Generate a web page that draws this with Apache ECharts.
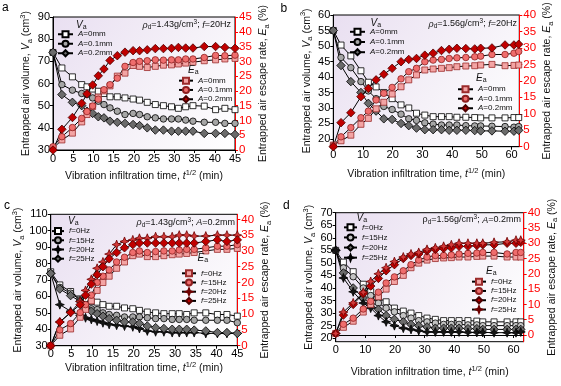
<!DOCTYPE html>
<html><head><meta charset="utf-8">
<script src="https://cdn.jsdelivr.net/npm/echarts@6/dist/echarts.min.js"></script>
<style>html,body{margin:0;padding:0;background:#fff}#c{width:561px;height:386px}</style>
</head><body><div id="c"></div>
<script>
// ---------------- data ----------------
const xA = [0, 2.2, 4.8, 7.1, 8.4, 9.8, 11.2, 12.6, 14.1, 15.9, 17.8, 19.8, 21.4, 23.3, 25.3, 27.3, 29.3, 31, 32.8, 34.6, 37.4, 40.2, 42.5, 45];
const xB = [0, 2.6, 5.9, 9.3, 11.8, 14.4, 17, 19.8, 22.8, 25.4, 28, 30.8, 33.6, 36.4, 39, 41.6, 44.6, 47.6, 49.6, 53.4, 57.8, 60.8, 62.4];

const aVa0 = [74, 67, 63, 59.5, 58.5, 57.5, 56.5, 55.5, 54, 54, 53.5, 53, 52.5, 51.5, 50.5, 50, 49.5, 48.8, 49.5, 50, 49.8, 48.2, 48.8, 48.2];
const aVa1 = [74, 59.5, 57, 55.5, 55, 53.5, 52, 50.5, 49, 47.5, 46, 46.5, 46, 45, 44.5, 44, 44, 44, 43.5, 43, 42.5, 42.5, 42, 42];
const aVa2 = [74, 55, 51.5, 50, 47.5, 46.5, 45, 44.5, 43, 42.5, 42, 41.5, 41, 40, 39, 39, 38.5, 38.5, 38.5, 38.5, 37.5, 37.5, 37.5, 37];
const aEa0 = [0.6, 3.4, 5.7, 9.5, 12, 14.7, 17.9, 20, 21.7, 25, 26, 28.6, 28.3, 27.9, 28.3, 28.7, 28.8, 29.1, 29.4, 29.7, 30.2, 30.5, 30.8, 31];
const aEa1 = [1.1, 4.5, 7.6, 10.7, 13, 14.9, 17.2, 20.4, 22.1, 24.3, 28.3, 29.6, 30, 30.2, 30.5, 30.4, 30.5, 30.5, 30.8, 30.8, 31.3, 32, 31.9, 32.1];
const aEa2 = [0, 7, 11, 15.8, 19, 22, 25.1, 27.4, 30.3, 31.9, 33.1, 33.6, 33.6, 33.9, 34.3, 34.3, 34.4, 34.7, 34.5, 34.5, 35, 35, 34.7, 34.4];

const bVa0 = [55, 50.3, 46.8, 42, 38.3, 36.8, 35, 33, 31, 30, 28.3, 27.7, 27.2, 27.2, 27.2, 27, 27, 26.9, 26.8, 26.8, 26.8, 26.9, 26.9];
const bVa1 = [55, 46.3, 43, 38.5, 35.5, 33, 30.5, 29.5, 28, 26.5, 26, 25.2, 24.8, 24.5, 24.5, 24.5, 24.3, 24.2, 24.2, 24.1, 24, 23.8, 24];
const bVa2 = [55, 43.7, 38.5, 35, 31.5, 29, 26.5, 26.3, 25, 24.3, 23.5, 23, 23, 23, 22.8, 22.8, 22.8, 22.7, 22.6, 22.6, 22.5, 22.5, 22.8];
const bEa0 = [0.5, 1.8, 3.5, 6.8, 8.6, 11.5, 13.5, 16, 18.2, 20.3, 21.8, 23.3, 23.6, 23.8, 24, 24.3, 24.5, 24.6, 24.8, 25, 24.6, 24.7, 24.8];
const bEa1 = [0.3, 3, 5.8, 8.8, 10.8, 14.2, 16.2, 18, 20.6, 22.8, 23.8, 25.8, 26.3, 26.5, 26.8, 27, 27.1, 27.3, 27.5, 28, 28, 28.4, 28.9];
const bEa2 = [0, 7.3, 10.3, 15.2, 17.7, 20.3, 22, 23.8, 25.8, 26.5, 26.8, 27.8, 28.4, 29.2, 29.6, 29.9, 29.8, 29.7, 29.9, 30, 30.9, 30.9, 31.1];

const cVa0 = [75, 67, 63, 58.5, 58, 57, 56.5, 55, 54, 54, 53, 52.5, 51.5, 50.5, 50, 49.5, 49.5, 49.5, 49, 50, 50, 49, 49, 48];
const cVa1 = [74, 65.5, 62, 58, 55, 52.5, 52, 50, 49, 48.5, 47.5, 47.5, 47.5, 47, 46.5, 46.5, 46, 46, 46, 45.5, 45.5, 45.5, 45.5, 44];
const cVa2 = [74, 55, 51, 48.5, 47, 46, 45, 44, 43, 42.5, 42, 41.5, 40.5, 39, 38.5, 38.5, 38, 38, 38, 38, 37.5, 37.5, 37.5, 37.5];
const cVa3 = [74, 64.5, 60.5, 57, 53, 51, 49.5, 48, 46.5, 45.5, 44.5, 44.5, 43.5, 42, 41, 40.5, 40, 40, 40, 39.5, 39, 38, 38, 37.5];
const cEa0 = [0, 3.3, 5.3, 9, 11.5, 14.2, 17.5, 20, 22, 24.5, 26.5, 28.5, 29, 28.2, 28.2, 28.5, 28.8, 29, 29.2, 29.5, 30, 30.5, 30.5, 30.8];
const cEa1 = [0, 5, 7, 10.5, 13, 16, 20, 22, 24, 26.5, 28, 29.5, 30, 29.5, 29.8, 30, 30, 30.3, 30.5, 30.5, 31, 31.5, 31.5, 32];
const cEa2 = [0, 7.5, 10.5, 14, 17.5, 21, 24.5, 26.5, 29, 32, 33, 33.5, 34, 34, 34.5, 34.5, 34.5, 35, 35, 34.7, 34.7, 35, 35, 35];
const cEa3 = [0, 7.5, 10.5, 13, 16, 19.5, 22.5, 25, 27.5, 29.5, 31, 32, 32.5, 32.5, 32.5, 32.5, 32.5, 32.5, 32.5, 32.5, 33, 33.5, 33, 33.5];

const dVa0 = [55, 50.3, 46.5, 41.5, 38.5, 36, 34.5, 32, 30.8, 30, 29, 28, 27.5, 27, 27, 27, 27, 26.8, 26.5, 26.5, 26.5, 26.5, 26.5];
const dVa1 = [55, 48, 44.5, 40, 37, 34, 32, 30.5, 29, 28, 27, 26.5, 26, 25.5, 25.5, 25.5, 25.3, 25.3, 25, 25, 25, 25, 25];
const dVa2 = [55, 46, 40, 36, 33.5, 31.5, 29, 27.5, 26.5, 25.5, 25, 24.5, 24, 24, 24, 24, 23.8, 23.8, 23.5, 23.5, 23.5, 23.5, 23.5];
const dVa3 = [55, 44, 38.5, 34, 32, 29, 26.5, 25, 24, 23.5, 23, 22.5, 22.5, 22.5, 22.5, 22.5, 22.3, 22.3, 22.3, 22.2, 22.2, 22.2, 22.5];
const dEa0 = [0.5, 2.5, 4.5, 7.5, 10, 12.5, 15, 17.5, 19.5, 22, 23.5, 24.5, 25, 25.2, 25.3, 25.5, 25.5, 25.7, 25.8, 25.8, 25.5, 25.5, 25.5];
const dEa1 = [0.5, 3.5, 5.5, 8.5, 11, 14, 17, 19, 21, 23, 24.5, 25.5, 26, 26, 26.2, 26.5, 26.7, 26.8, 27, 27, 26.5, 27, 27];
const dEa2 = [0.5, 6.5, 10, 13.5, 16, 18.5, 21, 23, 25, 26, 26.5, 27.5, 28, 28.3, 28.5, 29, 29, 29.3, 29.5, 29.5, 30, 30, 30.3];
const dEa3 = [0.5, 7.5, 10.5, 14, 17.5, 20, 22, 24, 25.5, 26.5, 27, 28, 28.5, 29, 29.5, 30, 30, 30, 30, 30.3, 30.5, 31, 31];

const labelsA = ['A=0mm', 'A=0.1mm', 'A=0.2mm'];
const labelsF = ['f=0Hz', 'f=15Hz', 'f=20Hz', 'f=25Hz'];

const ticksXB = [0, 10, 20, 30, 40, 50, 60];
const ticksLeftB = [20, 25, 30, 35, 40, 45, 50, 55, 60];
const ticksRight40 = [0, 5, 10, 15, 20, 25, 30, 35, 40];
const ticksLeftD = [20, 25, 30, 35, 40, 45, 50, 55, 60, 65, 70];

const annA = '{i|ρ}{s|d}=1.43g/cm{p|3}; {i|f}=20Hz';
const annB = '{i|ρ}{s|d}=1.56g/cm{p|3}; {i|f}=20Hz';
const annC = '{i|ρ}{s|d}=1.43g/cm{p|3}; {i|A}=0.2mm';
const annD = 'ρ{s|d}=1.56g/cm{p|3}; {i|A}=0.2mm';

// ---------------- styles ----------------
const FF = '"Liberation Sans", Arial, Helvetica, sans-serif';
const STAR = 'path://M0,-10 L2.8,-2.8 L10,0 L2.8,2.8 L0,10 L-2.8,2.8 L-10,0 L-2.8,-2.8 Z';
const ST = {
  sqW: {symbol: 'rect', size: 6, fill: '#ffffff', border: '#000'},
  ciG: {symbol: 'circle', size: 6.5, fill: '#a6a6a6', border: '#000'},
  ciL: {symbol: 'circle', size: 6.5, fill: '#c4c4c4', border: '#000'},
  diG: {symbol: 'diamond', size: 8.5, fill: '#6b6b6b', border: '#000'},
  stK: {symbol: STAR, size: 9, fill: '#151515', border: '#000'},
  sqP: {symbol: 'rect', size: 6, fill: '#f3a4a4', border: '#9b2b2b'},
  ciR: {symbol: 'circle', size: 6.5, fill: '#ef6d6d', border: '#8e2020'},
  diR: {symbol: 'diamond', size: 8.5, fill: '#c00000', border: '#4d0000'},
  stR: {symbol: STAR, size: 9, fill: '#d23a3a', border: '#6e0000'}
};

const bg = {type: 'linear', x: 0, y: 0, x2: 1, y2: 1, colorStops: [
  {offset: 0, color: '#e9dff1'}, {offset: 0.55, color: '#f5f1f8'}, {offset: 1, color: '#ffffff'}]};

const grids = [
  {left: 53, top: 17, width: 182, height: 133},
  {left: 333.3, top: 15, width: 186, height: 131.7},
  {left: 50.7, top: 214.3, width: 186.6, height: 131.4},
  {left: 335.7, top: 212.7, width: 188, height: 129}
].map(g => Object.assign(g, {show: true, backgroundColor: bg, borderColor: '#000', borderWidth: 1, containLabel: false, outerBoundsMode: 'none'}));

const nameRich = {
  i: {fontStyle: 'italic', fontSize: 10.5, fontFamily: FF, color: '#111'},
  s: {fontSize: 7.5, fontFamily: FF, color: '#111', verticalAlign: 'bottom', lineHeight: 8},
  p: {fontSize: 7.5, fontFamily: FF, color: '#111', verticalAlign: 'top', lineHeight: 8}
};
const nameStyle = {fontSize: 10.5, fontFamily: FF, color: '#111', lineHeight: 15, rich: nameRich};

function xAx(g, max, interval, custom, gap) {
  const ax = {
    gridIndex: g, type: 'value', min: 0, max: max,
    axisLine: {lineStyle: {color: '#000', width: 1}},
    axisTick: {length: 3, lineStyle: {color: '#000'}},
    axisLabel: {fontSize: 11, color: '#000', margin: 3, fontFamily: FF},
    splitLine: {show: false},
    name: 'Vibration infiltration time, {i|t}{p|1/2} (min)', nameLocation: 'middle', nameGap: gap,
    nameTextStyle: nameStyle
  };
  if (custom) { ax.axisLabel.customValues = custom; ax.axisTick.customValues = custom; }
  else ax.interval = interval;
  return ax;
}
function yL(g, min, max, interval, custom, gap) {
  const ax = {
    gridIndex: g, type: 'value', position: 'left', min: min, max: max,
    axisLine: {show: true, lineStyle: {color: '#000', width: 1}},
    axisTick: {show: true, length: 3, lineStyle: {color: '#000'}},
    axisLabel: {fontSize: 11, color: '#000', margin: 3, fontFamily: FF},
    splitLine: {show: false},
    name: 'Entrapped air volume, {i|V}{s|a} (cm{p|3})', nameLocation: 'middle', nameRotate: 90, nameGap: gap,
    nameTextStyle: nameStyle
  };
  if (custom) { ax.axisLabel.customValues = custom; ax.axisTick.customValues = custom; }
  else ax.interval = interval;
  return ax;
}
function yR(g, min, max, interval, custom, gap) {
  const ax = {
    gridIndex: g, type: 'value', position: 'right', min: min, max: max,
    axisLine: {show: true, lineStyle: {color: '#ff0000', width: 1}},
    axisTick: {show: true, length: 3, lineStyle: {color: '#ff0000'}},
    axisLabel: {fontSize: 11.5, color: '#ff0000', margin: 4, fontFamily: FF},
    splitLine: {show: false},
    name: 'Entrapped air escape rate, {i|E}{s|a} (%)', nameLocation: 'middle', nameRotate: 90, nameGap: gap,
    nameTextStyle: nameStyle
  };
  if (custom) { ax.axisLabel.customValues = custom; ax.axisTick.customValues = custom; }
  else ax.interval = interval;
  return ax;
}

const xAxis = [
  xAx(0, 45, 5, null, 19),
  xAx(1, 62.6, 10, ticksXB, 20),
  xAx(2, 45, 5, null, 13),
  xAx(3, 63.4, 10, ticksXB, 23)
];
const yAxis = [
  yL(0, 30, 90, 10, null, 17), yR(0, 0, 45, 5, null, 16),
  yL(1, 17.5, 60, 5, ticksLeftB, 18), yR(1, 0, 40, 5, null, 18),
  yL(2, 30, 110, 10, null, 23), yR(2, 0, 41.6, 5, ticksRight40, 20),
  yL(3, 18.6, 70, 5, ticksLeftD, 17.5), yR(3, -2.2, 40, 5, ticksRight40, 20.5)
];

const series = [];
function add(name, xs, ys, g, right, sty) {
  series.push({
    name: name, type: 'line', xAxisIndex: g, yAxisIndex: 2 * g + (right ? 1 : 0),
    data: xs.map((x, i) => [x, ys[i]]),
    symbol: sty.symbol, symbolSize: sty.size,
    itemStyle: {color: sty.fill, borderColor: sty.border, borderWidth: 0.8},
    lineStyle: {color: '#000', width: 1},
    emphasis: {disabled: true}, silent: true, z: right ? 3 : 2
  });
  return name;
}
const panels = [
  {id: 'a', g: 0, xs: xA, labels: labelsA, va: [aVa0, aVa1, aVa2], ea: [aEa0, aEa1, aEa2],
   vs: ['sqW', 'ciG', 'diG'], es: ['sqP', 'ciR', 'diR']},
  {id: 'b', g: 1, xs: xB, labels: labelsA, va: [bVa0, bVa1, bVa2], ea: [bEa0, bEa1, bEa2],
   vs: ['sqW', 'ciG', 'diG'], es: ['sqP', 'ciR', 'diR']},
  {id: 'c', g: 2, xs: xA, labels: labelsF, va: [cVa0, cVa1, cVa2, cVa3], ea: [cEa0, cEa1, cEa2, cEa3],
   vs: ['sqW', 'ciG', 'stK', 'diG'], es: ['sqP', 'ciR', 'stR', 'diR']},
  {id: 'd', g: 3, xs: xB, labels: labelsF, va: [dVa0, dVa1, dVa2, dVa3], ea: [dEa0, dEa1, dEa2, dEa3],
   vs: ['sqW', 'ciL', 'diG', 'stK'], es: ['sqP', 'ciR', 'diR', 'stR']}
];
const legendNames = {};
panels.forEach(p => {
  legendNames[p.id + 'V'] = p.va.map((ys, k) => add(p.id + '|V|' + p.labels[k], p.xs, ys, p.g, false, ST[p.vs[k]]));
  legendNames[p.id + 'E'] = p.ea.map((ys, k) => add(p.id + '|E|' + p.labels[k], p.xs, ys, p.g, true, ST[p.es[k]]));
});

// legend placement: [key, left, top, itemWidth, step, fontSize]
const legendPos = [
  ['aV', 57, 29.5, 15, 9.5, 8], ['aE', 178, 76, 14, 9.3, 8],
  ['bV', 349, 26.7, 15, 10.2, 8], ['bE', 457, 84.5, 15, 9.5, 8],
  ['cV', 51, 226.5, 12, 9.2, 8], ['cE', 181, 268.7, 14, 9.2, 8],
  ['dV', 343, 222.3, 13, 10.1, 8], ['dE', 471, 277, 14, 9.3, 8]
];
const legend = legendPos.map(([key, left, top, iw, step, fs]) => ({
  orient: 'vertical', left: left, top: top, itemWidth: iw, itemHeight: 7.5, itemGap: 0,
  selectedMode: false, padding: 0, data: legendNames[key],
  formatter: n => n.split('|')[2].replace(/^(A|f)/, '{i|$1}'),
  textStyle: {fontSize: fs, fontFamily: FF, color: '#111', lineHeight: step,
    rich: {i: {fontStyle: 'italic', fontSize: fs, fontFamily: FF, color: '#111', lineHeight: step}}}
}));

const hdrRich = {
  v: {fontStyle: 'italic', fontSize: 10, fontFamily: FF, fill: '#111', lineHeight: 12},
  s: {fontSize: 7, fontFamily: FF, fill: '#111', verticalAlign: 'bottom', lineHeight: 7}
};
const annRich = {
  i: {fontStyle: 'italic', fontSize: 9, fontFamily: FF, fill: '#111', lineHeight: 12},
  s: {fontSize: 6.5, fontFamily: FF, fill: '#111', verticalAlign: 'bottom', lineHeight: 6.5},
  p: {fontSize: 6.5, fontFamily: FF, fill: '#111', verticalAlign: 'top', lineHeight: 6.5}
};
function txt(x, y, text, opts) {
  return {type: 'text', x: x, y: y, z: 100, silent: true, style: Object.assign({text: text, fill: '#111',
    verticalAlign: 'middle', fontFamily: FF}, opts)};
}
const graphic = [
  txt(2, 8, 'a', {font: 'bold 20px ' + FF, fill: '#000'}),
  txt(280.5, 8.5, 'b', {font: 'bold 20px ' + FF, fill: '#000'}),
  txt(4, 205.5, 'c', {font: 'bold 20px ' + FF, fill: '#000'}),
  txt(283, 206, 'd', {font: 'bold 20px ' + FF, fill: '#000'}),
  txt(76, 25, '{v|V}{s|a}', {rich: hdrRich}),
  txt(188, 70, '{v|E}{s|a}', {rich: hdrRich}),
  txt(370.5, 23, '{v|V}{s|a}', {rich: hdrRich}),
  txt(476, 78, '{v|E}{s|a}', {rich: hdrRich}),
  txt(68, 221, '{v|V}{s|a}', {rich: hdrRich}),
  txt(197.5, 258, '{v|E}{s|a}', {rich: hdrRich}),
  txt(356.5, 218, '{v|V}{s|a}', {rich: hdrRich}),
  txt(486, 271, '{v|E}{s|a}', {rich: hdrRich}),
  txt(231, 25, annA, {align: 'right', fontSize: 9, lineHeight: 12, rich: annRich}),
  txt(517, 24, annB, {align: 'right', fontSize: 9, lineHeight: 12, rich: annRich}),
  txt(235, 222.7, annC, {align: 'right', fontSize: 9, lineHeight: 12, rich: annRich}),
  txt(521, 220, annD, {align: 'right', fontSize: 9, lineHeight: 12, rich: annRich})
];

const chart = echarts.init(document.getElementById('c'), null, {renderer: 'canvas'});
chart.setOption({
  animation: false,
  backgroundColor: '#ffffff',
  grid: grids, xAxis: xAxis, yAxis: yAxis, series: series, legend: legend, graphic: graphic
});
</script></body></html>
